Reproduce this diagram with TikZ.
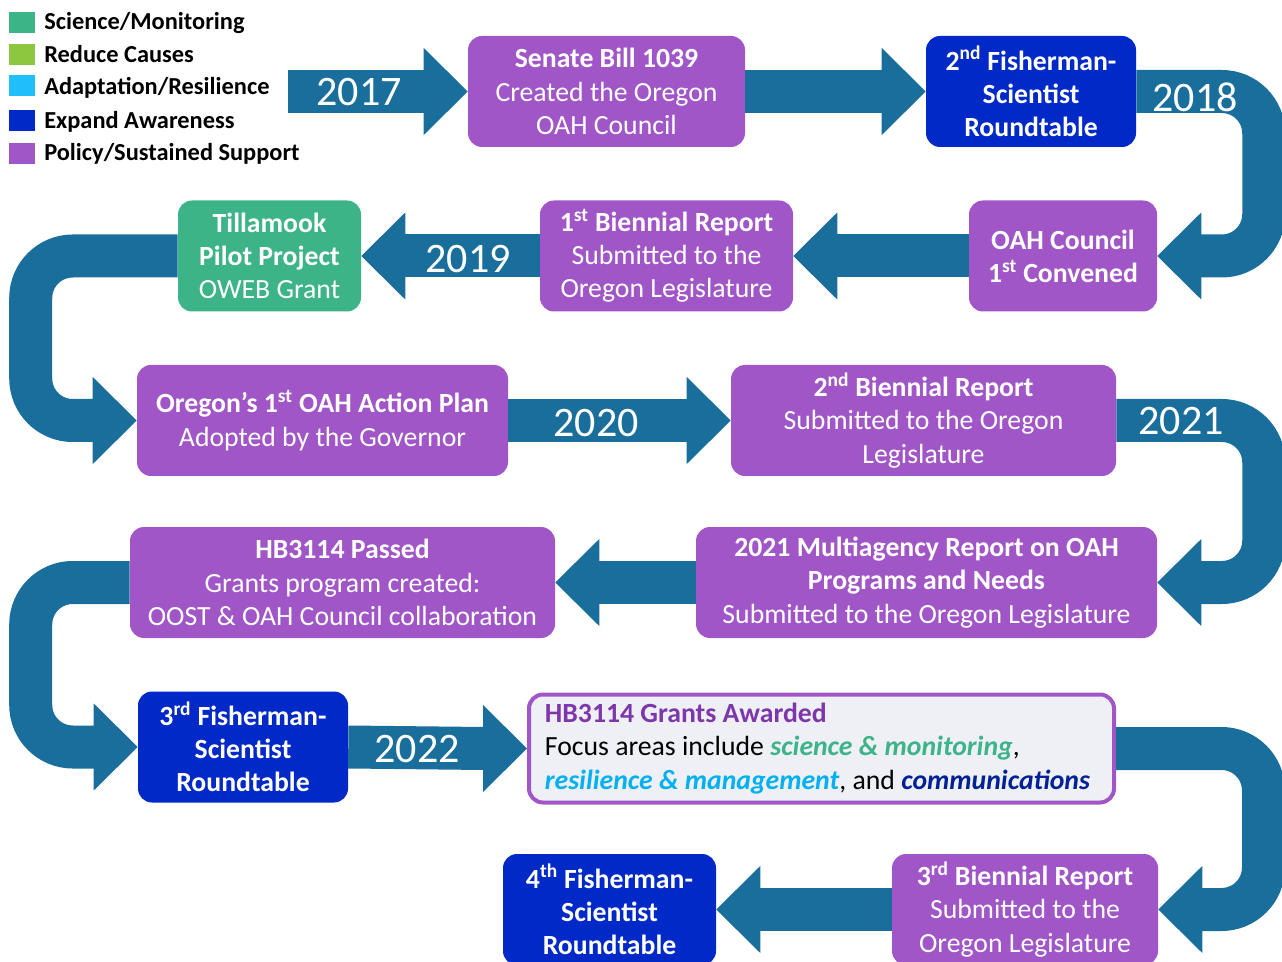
\documentclass[tikz,border=0pt]{standalone}
\usepackage{fontspec}
\setmainfont{Carlito}
\usetikzlibrary{calc}
\definecolor{purp}{RGB}{161,86,200}
\definecolor{blu}{RGB}{0,41,200}
\definecolor{grn}{RGB}{61,179,136}
\definecolor{lime}{RGB}{141,198,63}
\definecolor{sky}{RGB}{32,190,250}
\definecolor{skytxt}{RGB}{0,176,240}
\definecolor{navy}{RGB}{0,32,150}
\definecolor{bandc}{RGB}{26,110,155}
\definecolor{grbg}{RGB}{238,240,245}
\definecolor{gtitle}{RGB}{125,55,170}
\newcommand\bxfont{\fontsize{20.8}{24.9}\selectfont}
\newcommand\headR[1]{\fill[bandc] (#1) -- ++(-44,-43.5) -- ++(0,87) -- cycle;}
\newcommand\headL[1]{\fill[bandc] (#1) -- ++(44,-43.5) -- ++(0,87) -- cycle;}
\begin{document}
\begin{tikzpicture}[x=0.75pt,y=-0.75pt,
  sz/.style 2 args={minimum width=#1*0.75pt, minimum height=#2*0.75pt},
  box/.style={rounded corners=10.5pt, inner sep=0pt, text=white, align=center, font=\bxfont},
  band/.style={draw=bandc, line width=32.25pt, rounded corners=31.5pt},
  year/.style={text=white, font=\fontsize{31.5}{37}\selectfont, inner sep=0pt},
  legsq/.style={minimum width=19.5pt, minimum height=15.75pt, inner sep=0pt},
  legtx/.style={font=\fontsize{18.3}{22}\selectfont\bfseries, anchor=base west, inner sep=0pt}]
\useasboundingbox (0,0) rectangle (1282,962);
\clip (0,0) rectangle (1282,962);

% legend
\node[legsq, fill=grn]  (sq1) at (22,23) {};
\node[legsq, fill=lime] (sq2) at (22,54.5) {};
\node[legsq, fill=sky]  (sq3) at (22,86) {};
\node[legsq, fill=blu]  (sq4) at (22,120.3) {};
\node[legsq, fill=purp] (sq5) at (22,153.5) {};
\node[legtx] (lt1) at (44,29.5) {Science/Monitoring};
\node[legtx] (lt2) at (44,63) {Reduce Causes};
\node[legtx] (lt3) at (44,95) {Adaptation/Resilience};
\node[legtx] (lt4) at (44,129) {Expand Awareness};
\node[legtx] (lt5) at (44,160.5) {Policy/Sustained Support};

% boxes
\node[box, fill=purp, sz={277}{111}] (senate) at (606.5,91.5) {\textbf{Senate Bill 1039}\\Created the Oregon\\OAH Council};
\node[box, fill=blu, sz={210}{111}] (fish2) at (1031,91.5) {\textbf{2\textsuperscript{nd} Fisherman-}\\\textbf{Scientist}\\\textbf{Roundtable}};
\node[box, fill=purp, sz={188}{111}] (oahc) at (1063,256) {\textbf{OAH Council}\\\textbf{1\textsuperscript{st} Convened}};
\node[box, fill=purp, sz={253}{111}] (bien1) at (666.5,256) {\textbf{1\textsuperscript{st} Biennial Report}\\Submitted to the\\Oregon Legislature};
\node[box, fill=grn, sz={183}{111}] (till) at (269.5,256) {\textbf{Tillamook}\\\textbf{Pilot Project}\\OWEB Grant};
\node[box, fill=purp, sz={371}{111}] (action) at (322.5,420.5) {\textbf{Oregon’s 1\textsuperscript{st} OAH Action Plan}\\Adopted by the Governor};
\node[box, fill=purp, sz={385}{111}] (bien2) at (923.5,420.5) {\textbf{2\textsuperscript{nd} Biennial Report}\\Submitted to the Oregon\\Legislature};
\node[box, fill=purp, sz={461}{111}] (multi) at (926.5,582.5) {\textbf{2021 Multiagency Report on OAH}\\\textbf{Programs and Needs}\\Submitted to the Oregon Legislature};
\node[box, fill=purp, sz={425}{111}] (hbp) at (342.5,582.5) {\textbf{HB3114 Passed}\\Grants program created:\\OOST \& OAH Council collaboration};
\node[box, fill=blu, sz={210}{111}] (fish3) at (243,747) {\textbf{3\textsuperscript{rd} Fisherman-}\\\textbf{Scientist}\\\textbf{Roundtable}};
\node[draw=purp, line width=3pt, fill=grbg, rounded corners=10.5pt, sz={585}{108}, align=left, font=\bxfont, inner sep=0pt, text=black] (grants) at (821.5,748.5)
  {\textcolor{gtitle}{\textbf{HB3114 Grants Awarded}}\\
   Focus areas include \textcolor{grn}{\textbf{\textit{science \& monitoring}}},\\
   \textcolor{skytxt}{\textbf{\textit{resilience \& management}}}, and \textcolor{navy}{\textbf{\textit{communications}}}\hspace*{6pt}};
\node[box, fill=purp, sz={266}{111}] (bien3) at (1025,909.5) {\textbf{3\textsuperscript{rd} Biennial Report}\\Submitted to the\\Oregon Legislature};
\node[box, fill=blu, sz={213}{111}] (fish4) at (609.5,909.5) {\textbf{4\textsuperscript{th} Fisherman-}\\\textbf{Scientist}\\\textbf{Roundtable}};

% connectors
\coordinate (start) at (288,91.5);
\draw[band] (start) -- ($(senate.west)+(-43,0)$); \headR{senate.west}
\draw[band] (senate.east) -- ($(fish2.west)+(-43,0)$); \headR{fish2.west}
\draw[band] (fish2.east) -- ++(127.5,0) |- ($(oahc.east)+(43,0)$); \headL{oahc.east}
\draw[band] (oahc.west) -- ($(bien1.east)+(43,0)$); \headL{bien1.east}
\draw[band] (bien1.west) -- ($(till.east)+(43,0)$); \headL{till.east}
\draw[band] (till.west) -- ++(-147,0) |- ($(action.west)+(-43,0)$); \headR{action.west}
\draw[band] (action.east) -- ($(bien2.west)+(-43,0)$); \headR{bien2.west}
\draw[band] (bien2.east) -- ++(147.5,0) |- ($(multi.east)+(43,0)$); \headL{multi.east}
\draw[band] (multi.west) -- ($(hbp.east)+(43,0)$); \headL{hbp.east}
\draw[band] (hbp.west) -- ++(-99,0) |- ($(fish3.west)+(-43,0)$); \headR{fish3.west}
\draw[band] (fish3.east) -- ($(grants.west)+(-43,0)$); \headR{grants.west}
\draw[band] (grants.east) -- ++(147.5,0) |- ($(bien3.east)+(43,0)$); \headL{bien3.east}
\draw[band] (bien3.west) -- ($(fish4.east)+(43,0)$); \headL{fish4.east}

% years
\node[year] (y2017) at (359,92) {2017};
\node[year] (y2018) at (1195,97.5) {2018};
\node[year] (y2019) at (468,259) {2019};
\node[year] (y2020) at (596,423) {2020};
\node[year] (y2021) at (1181,421) {2021};
\node[year] (y2022) at (417,749) {2022};
\end{tikzpicture}
\end{document}
